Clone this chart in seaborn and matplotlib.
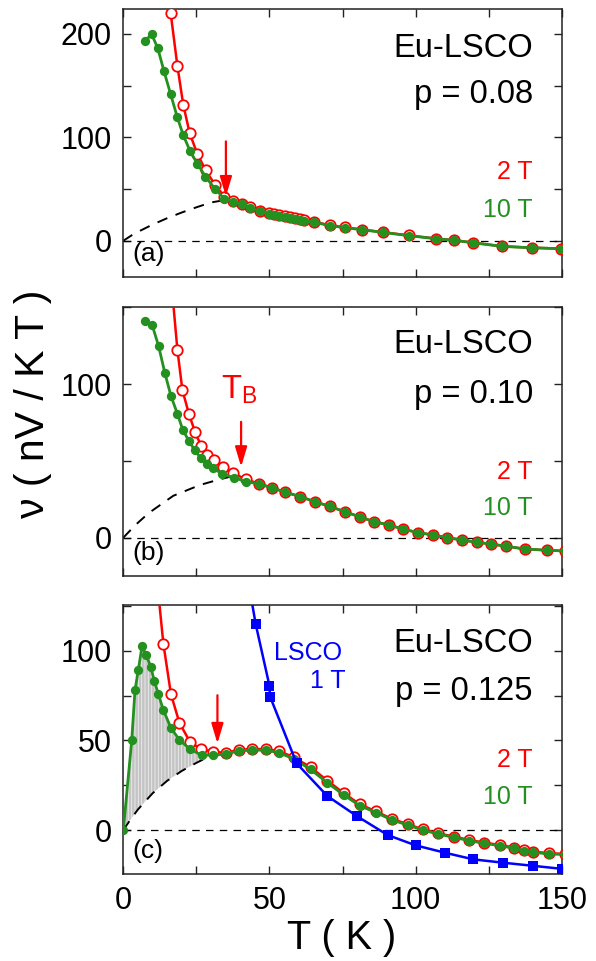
import numpy as np
import matplotlib
matplotlib.use('Agg')
import matplotlib.pyplot as plt
from matplotlib.ticker import FixedLocator
import seaborn as sns

# ---------------- data ----------------
# panel (a) p = 0.08
a_green_T = [7.4, 9.7, 11.8, 13.9, 16.2, 18.4, 20.5, 22.8, 25.3, 28.1, 31.4, 34.6, 37.4, 40.5, 43.4,
             46.8, 49.7, 51.6, 53.4, 55.2, 57.0, 58.8, 60.5, 61.8, 65.3, 70.7, 75.9, 81.7, 88.7, 97.7,
             107.0, 113.2, 119.5, 129.7, 139.8, 149.7]
a_green_y = [193, 199.5, 186, 164, 141.5, 120, 102, 87, 74.5, 62, 50, 40.5, 37.3, 35.3, 31.7,
             28.5, 25.9, 25.0, 24.0, 23.3, 22.3, 21.1, 20.1, 19.2, 17.8, 14.6, 12.6, 10.6, 8.1, 4.9,
             1.9, 0.4, -1.9, -5.5, -6.8, -7.7]
a_red_T = [16.2, 18.5, 20.5, 22.7, 25.3, 28.2, 31.4, 34.6, 37.4, 40.5, 43.4, 46.8, 49.7, 51.6, 53.4,
           55.2, 57.0, 58.8, 60.5, 61.8, 65.3, 70.7, 75.9, 81.7, 88.7, 97.7, 107.0, 113.2, 119.5,
           129.7, 139.8, 149.7]
a_red_y = [220, 169, 131.5, 104, 84, 68, 54, 42.7, 38, 35.8, 32.2, 29, 26.4, 25.4, 24.5,
           23.8, 22.8, 21.6, 20.6, 19.7, 18.2, 15, 12.9, 10.8, 8.3, 5.1, 2.1, 0.5, -1.8,
           -5.4, -6.7, -7.6]
a_dash_T = [0, 3, 6, 10, 15, 20, 25, 30, 33.1]
a_dash_y = [0, 5.5, 10, 15.6, 21.8, 27.3, 32.3, 37, 38.5]

# panel (b) p = 0.10
b_green_T = [7.4, 9.9, 12.1, 14.2, 16.3, 18.5, 20.4, 22.5, 24.4, 26.5, 28.6, 30.8, 33.8, 37.9, 42.0,
             46.4, 50.9, 55.3, 60.6, 65.6, 70.6, 75.8, 81.0, 85.8, 90.9, 95.8, 100.9, 105.8, 110.8,
             115.8, 120.9, 125.7, 130.9, 137.5, 144.9, 151]
b_green_y = [141.2, 138.4, 124.7, 107.4, 92.4, 80.7, 70, 62.9, 57, 51.9, 48.2, 45.1, 41.6, 39.1, 36.5,
             35.1, 32.5, 29.7, 26.7, 23.4, 20.4, 16.9, 13.5, 10.4, 8.3, 5.5, 3.3, 1.8, 0,
             -1.5, -3, -4.1, -5.6, -7.4, -8.2, -8.7]
b_red_T = [16.5, 18.5, 20.2, 22.5, 24.6, 26.6, 28.7, 31.0, 34.0, 37.6, 42.0, 46.4, 50.9, 55.3, 60.6,
           65.6, 70.6, 75.8, 81.0, 85.8, 90.9, 95.8, 100.9, 105.8, 110.8, 115.8, 120.9, 125.7,
           130.9, 137.5, 144.9, 151]
b_red_y = [165, 122.6, 96.3, 80.3, 68.6, 59.9, 53.8, 50.3, 46, 41.9, 38, 35.1, 32.5, 29.7, 26.7,
           23.4, 20.4, 16.9, 13.5, 10.4, 8.3, 5.5, 3.3, 1.8, 0, -1.5, -3, -4.1,
           -5.6, -7.4, -8.2, -8.7]
b_dash_T = [0, 4, 8.6, 17.1, 26.2, 32, 36.5]
b_dash_y = [0, 8, 15.9, 27.3, 34.3, 37.5, 39.7]

# panel (c) p = 0.125
c_green_T = [0, 2.9, 4.0, 5.1, 6.4, 7.9, 9.4, 10.6, 12.0, 13.7, 16.3, 19.1, 22.8, 26.8, 30.6, 35.1,
             39.5, 44.1, 48.7, 53.4, 58.4, 64.1, 69.8, 75.5, 81.0, 86.5, 91.9, 97.4, 102.4, 107.8,
             113.2, 118.4, 123.5, 128.9, 133.8, 137.1, 140.3, 145.6, 151]
c_green_y = [0, 50.5, 78, 89, 102.5, 97.5, 91, 83.2, 75.8, 66.9, 57, 50.5, 45.1, 41.8, 41.8, 42.4,
             44.2, 44.6, 44.6, 43.1, 39.6, 33.8, 26.4, 19.5, 13.5, 9.8, 5.6, 2.8, 0, -2.2,
             -4.1, -5.9, -7.4, -8.7, -10.2, -11.5, -12.4, -13.3, -13.6]
c_red_T = [11.5, 13.7, 16.3, 19.2, 22.8, 26.6, 30.8, 35.1, 39.5, 44.1, 48.7, 53.4, 58.4, 64.1, 69.8,
           75.5, 81.0, 86.5, 91.9, 97.4, 102.4, 107.8, 113.2, 118.4, 123.5, 128.9, 133.8, 137.1,
           140.3, 145.6, 151]
c_red_y = [140, 104, 75.8, 59.8, 49.2, 45.1, 43.7, 43, 44.8, 45.2, 45.2, 43.9, 40.6, 35, 27.6,
           20.5, 14.3, 10.4, 6.2, 3.3, 0.4, -1.8, -3.7, -5.5, -7, -8.3, -9.8, -11.1,
           -12, -12.9, -13.3]
c_blue_T = [40.5, 45.3, 50.0, 50.2, 59.3, 69.8, 80.1, 90.5, 100.0, 110.0, 119.7, 130.0, 140.1, 150.0]
c_blue_y = [160, 114.8, 80.5, 74.5, 37.2, 19, 7.6, -2.8, -8.5, -12.6, -16.3, -18.2, -19.9, -21.6]
c_dash_T = [0, 2.5, 5, 10, 15, 20, 25, 28.7]
c_dash_y = [0, 6, 11.5, 20.5, 27.5, 33, 37.5, 40.5]

# T_B arrows (T, y_start, y_end)
arrow_a = (35.1, 96, 42.7)
arrow_b = (40.3, 75.5, 46.2)
arrow_c = (32.2, 75.2, 48.3)

x_ticks = [0, 50, 100, 150]
x_minor = [25, 75, 125]

RED = '#ff0000'
GREEN = '#23901f'
BLUE = '#0000ff'
INK = '#222222'

sns.set_theme(style='ticks')
plt.rcParams['font.family'] = ['Liberation Sans', 'DejaVu Sans']
plt.rcParams['mathtext.fontset'] = 'custom'
plt.rcParams['mathtext.rm'] = 'Liberation Sans'
plt.rcParams['mathtext.it'] = 'Liberation Sans:italic'
plt.rcParams['hatch.linewidth'] = 0.6
plt.rcParams['text.color'] = 'black'

fig = plt.figure(figsize=(5.96, 9.61), dpi=100)
left, width = 0.2069, 0.7356
ax_a = fig.add_axes([left, 0.7118, width, 0.2789])
ax_b = fig.add_axes([left, 0.4006, width, 0.2799])
ax_c = fig.add_axes([left, 0.0905, width, 0.2799])


def curves(ax, red_T, red_y, green_T, green_y, dash_T, dash_y):
    ax.axhline(0, color='black', lw=0.9, ls=(0, (6, 5)), zorder=1)
    ax.plot(dash_T, dash_y, color='black', lw=1.4, ls=(0, (5.5, 4.5)), zorder=2)
    sns.lineplot(x=red_T, y=red_y, ax=ax, color=RED, linewidth=1.8, marker='o', markersize=7.5,
                 markerfacecolor='white', markeredgecolor=RED, markeredgewidth=1.3,
                 estimator=None, sort=False, zorder=3)
    sns.lineplot(x=green_T, y=green_y, ax=ax, color=GREEN, linewidth=2.0, marker='o', markersize=6.7,
                 markerfacecolor=GREEN, markeredgecolor=GREEN, markeredgewidth=0,
                 estimator=None, sort=False, zorder=4)


def style(ax, ylim, ymajor, yminor, letter, p, yfr, show_x):
    ax.set_xlim(0, 150)
    ax.set_ylim(*ylim)
    ax.xaxis.set_major_locator(FixedLocator(x_ticks))
    ax.xaxis.set_minor_locator(FixedLocator(x_minor))
    ax.yaxis.set_major_locator(FixedLocator(ymajor))
    ax.yaxis.set_minor_locator(FixedLocator(yminor))
    ax.tick_params(which='both', direction='in', top=True, right=True, length=6, width=1,
                   color=INK, labelsize=22, pad=8.5, labelcolor='black')
    ax.tick_params(axis='x', labelbottom=show_x)
    for s in ax.spines.values():
        s.set_linewidth(1.1)
        s.set_color(INK)
    ax.set_xlabel('')
    ax.set_ylabel('')
    ax.text(0.02, 0.085, letter, transform=ax.transAxes, ha='left', va='center', fontsize=19)
    ax.text(0.934, yfr[0], 'Eu-LSCO', transform=ax.transAxes, ha='right', va='center', fontsize=23.5)
    ax.text(0.934, yfr[1], p, transform=ax.transAxes, ha='right', va='center', fontsize=23.5)
    ax.text(0.934, yfr[2], '2 T', transform=ax.transAxes, ha='right', va='center', fontsize=18, color=RED)
    ax.text(0.934, yfr[3], '10 T', transform=ax.transAxes, ha='right', va='center', fontsize=18, color=GREEN)


def arrow(ax, a):
    ax.annotate('', xy=(a[0], a[2]), xytext=(a[0], a[1]),
                arrowprops=dict(arrowstyle='-|>,head_length=0.6,head_width=0.18', color=RED,
                                lw=1.6, mutation_scale=20, shrinkA=0, shrinkB=0), zorder=6)


# (a)
curves(ax_a, a_red_T, a_red_y, a_green_T, a_green_y, a_dash_T, a_dash_y)
arrow(ax_a, arrow_a)
style(ax_a, (-35, 224), [0, 100, 200], [50, 150], '(a)', 'p = 0.08', (0.854, 0.679, 0.392, 0.25), False)

# (b)
curves(ax_b, b_red_T, b_red_y, b_green_T, b_green_y, b_dash_T, b_dash_y)
arrow(ax_b, arrow_b)
ax_b.text(33.5, 90.7, r'T$_{\mathrm{B}}$', color=RED, fontsize=23.5, ha='left', va='baseline')
style(ax_b, (-25, 150.3), [0, 100], [50, 150], '(b)', 'p = 0.10', (0.859, 0.673, 0.388, 0.252), False)

# (c)  shaded area between the 10 T curve and the dashed background
grid = np.linspace(0, c_dash_T[-1], 400)
upper = np.interp(grid, c_green_T, c_green_y)
lower = np.interp(grid, c_dash_T, c_dash_y)
ax_c.fill_between(grid, lower, upper, facecolor='#c4c4c4', edgecolor='#eeeeee', hatch='|||||',
                  linewidth=0, zorder=1.5)
curves(ax_c, c_red_T, c_red_y, c_green_T, c_green_y, c_dash_T, c_dash_y)
sns.lineplot(x=c_blue_T, y=c_blue_y, ax=ax_c, color=BLUE, linewidth=1.8, marker='s', markersize=6.5,
             markerfacecolor=BLUE, markeredgecolor=BLUE, markeredgewidth=0,
             estimator=None, sort=False, zorder=5)
arrow(ax_c, arrow_c)
ax_c.text(0.498, 0.82, 'LSCO', transform=ax_c.transAxes, ha='right', va='center', fontsize=18, color=BLUE)
ax_c.text(0.506, 0.717, '1 T', transform=ax_c.transAxes, ha='right', va='center', fontsize=18, color=BLUE)
style(ax_c, (-24.5, 125.5), [0, 50, 100], [25, 75, 125], '(c)', 'p = 0.125', (0.858, 0.678, 0.424, 0.287), True)

fig.text(0.574, 0.012, 'T ( K )', ha='center', va='baseline', fontsize=28.5)
fig.text(0.056, 0.5796, 'ν ( nV / K T )', rotation=90, ha='center', va='center', fontsize=29.5)

fig.savefig('out.png', dpi=100)
